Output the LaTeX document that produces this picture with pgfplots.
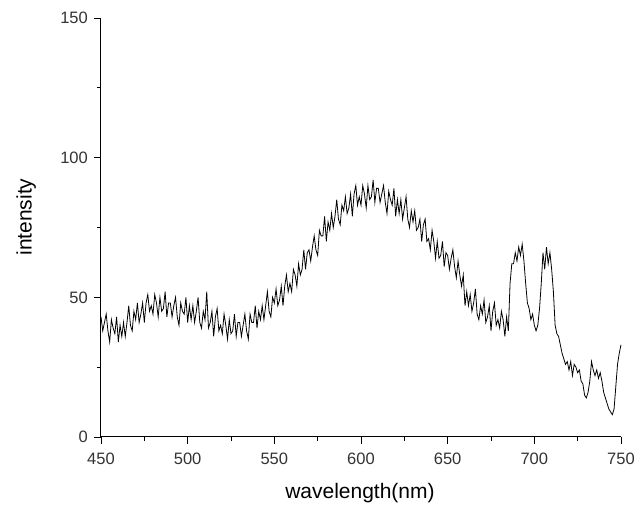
\documentclass[border=0pt]{standalone}
\usepackage{fontspec}
\setmainfont{Liberation Sans}
\usepackage{pgfplots}
\pgfplotsset{compat=1.18}
\begin{document}
\begin{tikzpicture}
\begin{axis}[
  scale only axis, width=520pt, height=419pt,
  xmin=450, xmax=750, ymin=0, ymax=150,
  axis lines*=left,
  axis line style={line width=1pt},
  xtick={450,500,...,750}, ytick={0,50,100,150},
  minor tick num=1,
  tick align=outside,
  major tick length=7pt, minor tick length=4pt,
  tick style={black, line width=0.8pt},
  /pgf/number format/assume math mode=true,
  ticklabel style={font=\fontsize{16.5}{18}\selectfont, text=black!80},
  xticklabel style={inner sep=0pt, anchor=north, yshift=-9pt},
  yticklabel style={inner sep=0pt, anchor=east, xshift=-6pt},
  xlabel={wavelength(nm)}, ylabel={intensity},
  label style={font=\fontsize{21}{24}\selectfont},
  xlabel style={at={(axis description cs:0.498,-0.134)}, anchor=center},
  ylabel style={at={(axis description cs:-0.144,0.525)}, anchor=center, rotate=0},
  clip=false,
]
\addplot[black, line width=0.8pt, mark=none] coordinates {
(450,43)(451,38)(452,41)(453,44)(454,38)(455,34)(456,42)(457,39)(458,37)(459,43)
(460,34)(461,40)(462,36)(463,41)(464,36)(465,41)(466,47)(467,40)(468,38)(469,45)
(470,42)(471,48)(472,41)(473,44)(474,48)(475,41)(476,48)(477,51)(478,45)(479,47)
(480,44)(481,51)(482,48)(483,43)(484,50)(485,45)(486,46)(487,52)(488,43)(489,48)
(490,48)(491,43)(492,47)(493,50)(494,43)(495,40)(496,48)(497,45)(498,44)(499,50)
(500,41)(501,47)(502,42)(503,47)(504,41)(505,45)(506,50)(507,41)(508,39)(509,45)
(510,42)(511,52)(512,39)(513,41)(514,45)(515,36)(516,43)(517,46)(518,38)(519,40)
(520,37)(521,44)(522,40)(523,35)(524,42)(525,37)(526,38)(527,44)(528,36)(529,41)
(530,41)(531,36)(532,40)(533,44)(534,38)(535,35)(536,44)(537,41)(538,41)(539,47)
(540,39)(541,45)(542,42)(543,47)(544,42)(545,47)(546,52)(547,45)(548,43)(549,50)
(550,48)(551,53)(552,47)(553,49)(554,54)(555,47)(556,54)(557,58)(558,52)(559,55)
(560,52)(561,60)(562,58)(563,54)(564,62)(565,58)(566,60)(567,67)(568,60)(569,66)
(570,67)(571,63)(572,68)(573,72)(574,67)(575,65)(576,74)(577,72)(578,72)(579,79)
(580,70)(581,77)(582,74)(583,80)(584,75)(585,79)(586,85)(587,78)(588,76)(589,83)
(590,81)(591,86)(592,80)(593,82)(594,87)(595,79)(596,87)(597,90)(598,83)(599,86)
(600,83)(601,90)(602,87)(603,82)(604,90)(605,85)(606,86)(607,92)(608,84)(609,89)
(610,89)(611,84)(612,87)(613,90)(614,84)(615,80)(616,88)(617,85)(618,83)(619,89)
(620,79)(621,85)(622,80)(623,85)(624,78)(625,82)(626,86)(627,78)(628,75)(629,81)
(630,77)(631,81)(632,74)(633,75)(634,78)(635,70)(636,76)(637,78)(638,70)(639,71)
(640,67)(641,74)(642,70)(643,64)(644,70)(645,64)(646,65)(647,70)(648,61)(649,66)
(650,65)(651,60)(652,64)(653,67)(654,61)(655,57)(656,63)(657,58)(658,54)(659,58)
(660,47)(661,52)(662,47)(663,51)(664,45)(665,48)(666,53)(667,44)(668,42)(669,47)
(670,44)(671,49)(672,41)(673,43)(674,47)(675,38)(676,45)(677,48)(678,40)(679,42)
(680,39)(681,45)(682,42)(683,36)(684,43)(685,38)(686,55)(687,62)(688,62)(689,66)
(690,63)(691,68)(692,65)(693,69)(694,63)(695,55)(696,48)(697,46)(698,42)(699,44)
(700,40)(701,38)(702,40)(703,46)(704,55)(705,66)(706,60)(707,68)(708,62)(709,66)
(710,60)(711,52)(712,40)(713,37)(714,36)(715,33)(716,30)(717,28)(718,26)(719,27)
(720,24)(721,27)(722,22)(723,26)(724,25)(725,23)(726,24)(727,20)(728,19)(729,15)
(730,14)(731,16)(732,20)(733,27)(734,24)(735,22)(736,24)(737,21)(738,23)(739,20)
(740,16)(741,14)(742,12)(743,10)(744,9)(745,8)(746,10)(747,18)(748,26)(749,30)
(750,33)
};
\end{axis}
\pgfresetboundingbox
\useasboundingbox (-101pt,-69pt) rectangle (534pt,437pt);
\end{tikzpicture}
\end{document}
